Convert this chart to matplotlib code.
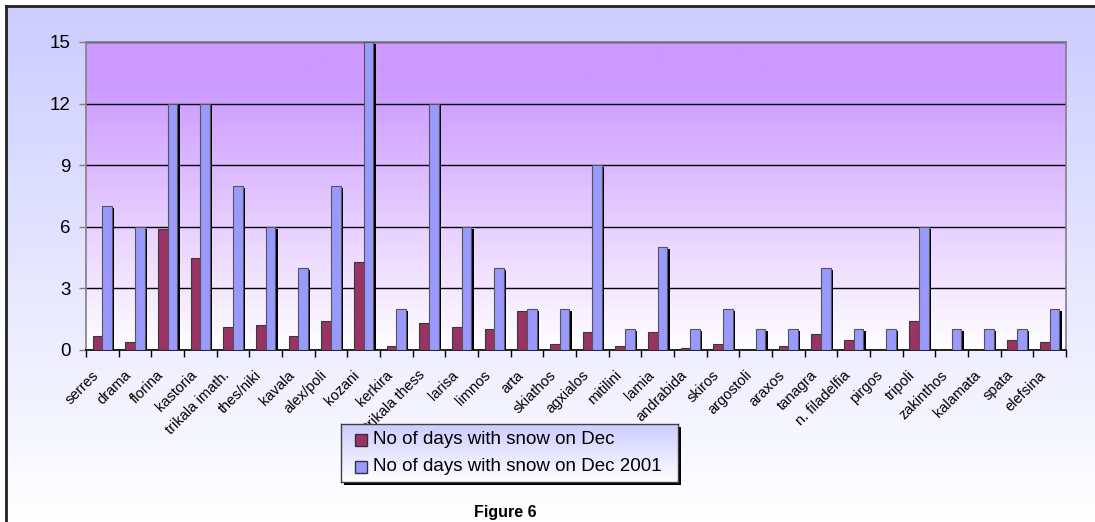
import numpy as np
import matplotlib
matplotlib.use("Agg")
import matplotlib.pyplot as plt
import matplotlib.patheffects as pe
import matplotlib.transforms as mtransforms
from matplotlib.patches import Rectangle
from matplotlib.colors import to_rgb

# --- data -------------------------------------------------------------
stations = ["serres", "drama", "florina", "kastoria", "trikala imath.",
            "thes/niki", "kavala", "alex/poli", "kozani", "kerkira",
            "trikala thess", "larisa", "limnos", "arta", "skiathos",
            "agxialos", "mitilini", "lamia", "andrabida", "skiros",
            "argostoli", "araxos", "tanagra", "n. filadelfia", "pirgos",
            "tripoli", "zakinthos", "kalamata", "spata", "elefsina"]
snow_dec = [0.7, 0.4, 5.9, 4.5, 1.1, 1.2, 0.7, 1.4, 4.3, 0.2,
            1.3, 1.1, 1.0, 1.9, 0.3, 0.9, 0.2, 0.9, 0.1, 0.3,
            0.0, 0.2, 0.8, 0.5, 0.0, 1.4, 0.0, 0.0, 0.5, 0.4]
snow_dec_2001 = [7, 6, 12, 12, 8, 6, 4, 8, 15, 2,
                 12, 6, 4, 2, 2, 9, 1, 5, 1, 2,
                 1, 1, 4, 1, 1, 6, 1, 1, 1, 2]
series_labels = ["No of days with snow on Dec", "No of days with snow on Dec 2001"]
y_ticks = [0, 3, 6, 9, 12, 15]

COL_DEC = "#993366"
COL_2001 = "#9999FF"

plt.rcParams['font.family'] = ['Liberation Sans', 'DejaVu Sans']

W, H = 1095, 522
fig = plt.figure(figsize=(W / 100, H / 100), dpi=100)
fig.patch.set_facecolor("white")

# --- chart-area background (vertical gradient, framed on left/top) ----
bg = fig.add_axes([6 / W, 0, 1 - 6 / W, 1 - 6 / H], zorder=0)
t = np.linspace(0, 1, 256)[:, None]
top_c = np.array(to_rgb("#CCCCFF"))
img = top_c[None, :] * (1 - t) + np.ones(3)[None, :] * t
bg.imshow(img[:, None, :], aspect="auto", extent=[0, 1, 0, 1],
          interpolation="bilinear")
bg.set_xlim(0, 1)
bg.set_ylim(0, 1)
bg.set_xticks([])
bg.set_yticks([])
for s in ("right", "bottom"):
    bg.spines[s].set_visible(False)
for s in ("left", "top"):
    bg.spines[s].set_linewidth(2)
    bg.spines[s].set_color("#222222")

# --- plot area --------------------------------------------------------
ax = fig.add_axes([86 / W, 1 - 350 / H, 980 / W, 308 / H], zorder=1)
n = len(stations)
x = np.arange(n)

v = np.linspace(0, 15, 300)[:, None]
f = np.clip(v / 13.0, 0, 1)
plot_c = np.array(to_rgb("#CC99FF"))
pimg = np.ones(3)[None, :] * (1 - f) + plot_c[None, :] * f
ax.imshow(pimg[:, None, :], aspect="auto", origin="lower",
          extent=[-0.5, n - 0.5, 0, 15], interpolation="bilinear", zorder=0)

shadow = [pe.SimplePatchShadow(offset=(1.5, -1.3), shadow_rgbFace="black", alpha=1.0),
          pe.Normal()]
w = 0.3
ax.bar(x - w / 2, snow_dec, w, color=COL_DEC, edgecolor="#3a3a3a",
       linewidth=0.8, zorder=3, path_effects=shadow)
ax.bar(x + w / 2, snow_dec_2001, w, color=COL_2001, edgecolor="#555555",
       linewidth=0.8, zorder=4, path_effects=shadow)

ax.set_xlim(-0.5, n - 0.5)
ax.set_ylim(0, 15)
ax.set_yticks(y_ticks)
ax.set_yticklabels([str(t) for t in y_ticks])
ax.yaxis.grid(True, color="black", linewidth=1, zorder=1)
ax.set_axisbelow(True)

ax.set_xticks(x)
ax.set_xticklabels([])
ax.tick_params(axis="x", which="major", length=0)
ax.set_xticks(np.arange(-0.5, n, 1), minor=True)
ax.tick_params(axis="x", which="minor", length=5, width=1, color="black",
               direction="out")
ax.tick_params(axis="y", length=5, width=1, color="#808080", pad=6,
               labelsize=13.5)

for s in ("left", "top", "right"):
    ax.spines[s].set_color("#808080")
    ax.spines[s].set_linewidth(1.2)
ax.spines["bottom"].set_color("black")
ax.spines["bottom"].set_linewidth(1.2)

lab_tr = ax.get_xaxis_transform() + mtransforms.ScaledTranslation(
    -0.06, -0.23, fig.dpi_scale_trans)
for i, name in enumerate(stations):
    ax.text(i, 0, name, transform=lab_tr, rotation=45, ha="right",
            va="center", rotation_mode="anchor", fontsize=10.5, clip_on=False)

# --- legend box -------------------------------------------------------
lx0, ly0, lw_, lh_ = 341, 424, 337, 58
fig.patches.append(Rectangle(((lx0 + 3) / W, 1 - (ly0 + lh_ + 3) / H),
                             lw_ / W, lh_ / H, transform=fig.transFigure,
                             facecolor="black", edgecolor="none", zorder=2))
leg = fig.add_axes([lx0 / W, 1 - (ly0 + lh_) / H, lw_ / W, lh_ / H], zorder=3)
limg = np.array(to_rgb("#CCCCFF"))[None, :] * (1 - t) + np.ones(3)[None, :] * t
leg.imshow(limg[:, None, :], aspect="auto", extent=[0, lw_, 0, lh_],
           interpolation="bilinear")
leg.set_xlim(0, lw_)
leg.set_ylim(0, lh_)
leg.set_xticks([])
leg.set_yticks([])
for s in leg.spines.values():
    s.set_color("#404040")
    s.set_linewidth(1)
rows_y = [lh_ - 16, lh_ - 42.5]
for yy, col, lab in zip(rows_y, [COL_DEC, COL_2001], series_labels):
    leg.add_patch(Rectangle((14, yy - 6), 12, 12, facecolor=col,
                            edgecolor="#333333", linewidth=1))
    leg.text(32, yy, lab, va="center", ha="left", fontsize=13.5)

fig.text(505.7 / W, 1 - 513 / H, "Figure 6", ha="center", va="center",
         fontweight="bold", fontsize=11.5)

fig.savefig("out.png", dpi=100)
